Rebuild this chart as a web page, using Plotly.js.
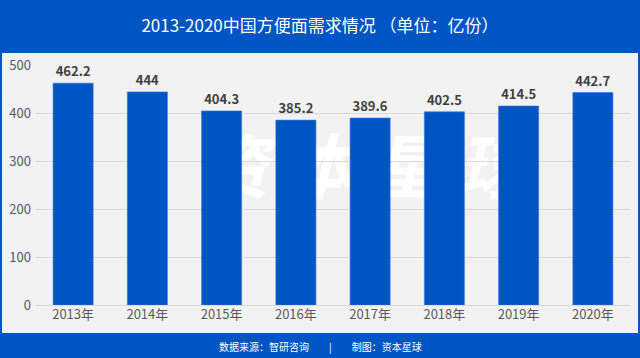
<!DOCTYPE html>
<html><head><meta charset="utf-8">
<script src="https://cdn.plot.ly/plotly-3.0.1.min.js"></script>
<style>html,body{margin:0;padding:0;background:#0055C4}#c{width:640px;height:358px}</style>
</head><body><div id="c"></div>
<script>
var years = ['2013年','2014年','2015年','2016年','2017年','2018年','2019年','2020年'];
var demand = [462.2, 444, 404.3, 385.2, 389.6, 402.5, 414.5, 442.7];
var valueLabels = ['462.2','444','404.3','385.2','389.6','402.5','414.5','442.7'];

var font = '"Microsoft YaHei", "Noto Sans CJK SC", "Noto Sans", sans-serif';
var trace = {
  type: 'bar', x: years, y: demand,
  text: valueLabels, textposition: 'outside', cliponaxis: false,
  textfont: {family: font, size: 13, color: '#404040', weight: 'bold'},
  marker: {color: '#0055C4', line: {color: '#3a7ad6', width: 0.6}},
  hoverinfo: 'none'
};
var layout = {
  width: 640, height: 358,
  margin: {l: 36, r: 10, t: 65, b: 53},
  paper_bgcolor: '#0055C4', plot_bgcolor: 'rgba(0,0,0,0)',
  bargap: 0.46, showlegend: false,
  font: {family: font},
  title: {text: '2013-2020中国方便面需求情况 （单位：亿份）', x: 0.5, xref: 'container', y: 0.927, yref: 'container', yanchor: 'middle',
          font: {family: font, size: 17, color: '#ffffff'}},
  xaxis: {type: 'category', tickfont: {size: 13, color: '#595959'}, showgrid: false, showline: false, ticks: ''},
  yaxis: {range: [0, 500], dtick: 100, tickfont: {size: 13, color: '#595959'}, gridcolor: '#d9d9d9', zerolinecolor: '#d9d9d9', zerolinewidth: 1, ticks: '', ticklabelstandoff: 4},
  shapes: [
    {type: 'rect', xref: 'paper', yref: 'paper', x0: -0.0572, x1: 1.0135, y0: -0.1167, y1: 1.05, layer: 'below', fillcolor: '#f2f2f2', line: {width: 0}},
    {type: 'rect', xref: 'paper', yref: 'paper', x0: 0.15, x1: 0.95, y0: 0.35, y1: 0.75, layer: 'below', fillcolor: 'rgba(0,0,0,0)', line: {width: 0},
     label: {text: '资 本 星 球', textposition: 'middle center', font: {family: font, size: 70, color: '#ffffff', weight: 'bold', style: 'italic'}}}
  ],
  annotations: [
    {text: '数据来源：智研咨询　　|　　制图：资本星球', xref: 'paper', yref: 'paper', x: (320-36)/594, y: (305-346)/240, xanchor: 'center', yanchor: 'middle', showarrow: false,
     font: {family: font, size: 10, color: '#ffffff'}}
  ]
};
Plotly.newPlot('c', [trace], layout, {displayModeBar: false, staticPlot: true});
</script></body></html>
